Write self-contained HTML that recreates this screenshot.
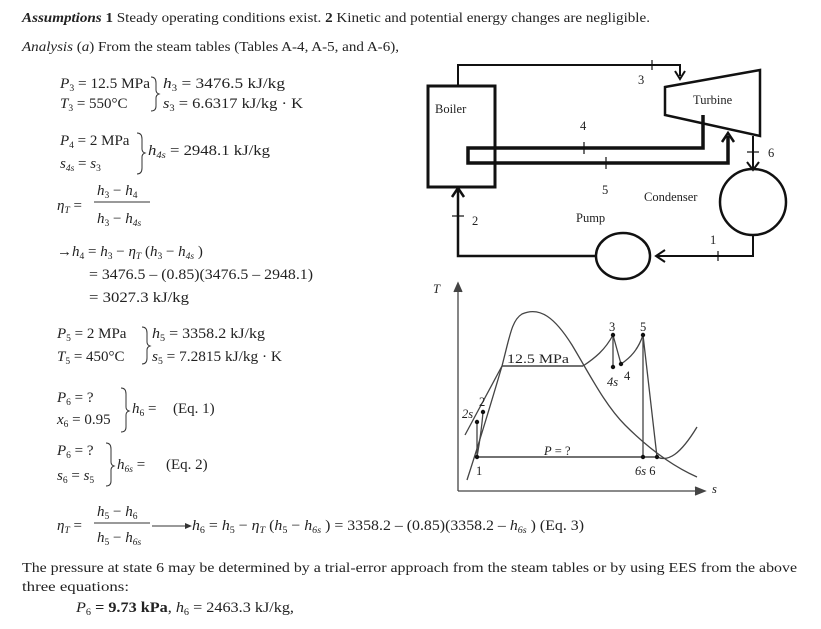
<!DOCTYPE html>
<html><head><meta charset="utf-8"><style>
html,body{margin:0;padding:0;background:#fff;}
svg{display:block;}
text{font-family:"Liberation Serif",serif;font-size:15px;fill:#222;}
.i{font-style:italic;}
.s{font-size:9.5px;}
.b{font-weight:bold;}
.h{font-size:14px;}
.d text{font-size:12.5px;}
</style></head><body>
<svg width="821" height="629" viewBox="0 0 821 629" xmlns="http://www.w3.org/2000/svg">
<!-- header -->
<text class="h" x="22" y="22" textLength="628" lengthAdjust="spacingAndGlyphs"><tspan class="i b">Assumptions</tspan> <tspan class="b">1</tspan> Steady operating conditions exist. <tspan class="b">2</tspan> Kinetic and potential energy changes are negligible.</text>
<text class="h" x="22" y="51" textLength="377" lengthAdjust="spacingAndGlyphs"><tspan class="i">Analysis</tspan> (<tspan class="i">a</tspan>) From the steam tables (Tables A-4, A-5, and A-6),</text>

<!-- state 3 -->
<text x="60" y="88" textLength="90" lengthAdjust="spacingAndGlyphs"><tspan class="i">P</tspan><tspan class="s" dy="3">3</tspan><tspan dy="-3"> = 12.5 MPa</tspan></text>
<text x="60" y="108"><tspan class="i">T</tspan><tspan class="s" dy="3">3</tspan><tspan dy="-3"> = 550°C</tspan></text>
<path d="M151 77 Q156 77 156 83 L156 90 Q156 93 159 94 Q156 95 156 98 L156 106 Q156 111 151 111" fill="none" stroke="#333" stroke-width="1"/>
<text x="163" y="88" textLength="122" lengthAdjust="spacingAndGlyphs"><tspan class="i">h</tspan><tspan class="s" dy="3">3</tspan><tspan dy="-3"> = 3476.5  kJ/kg</tspan></text>
<text x="163" y="108" textLength="140" lengthAdjust="spacingAndGlyphs"><tspan class="i">s</tspan><tspan class="s" dy="3">3</tspan><tspan dy="-3"> = 6.6317 kJ/kg · K</tspan></text>

<!-- state 4 -->
<text x="60" y="145"><tspan class="i">P</tspan><tspan class="s" dy="3">4</tspan><tspan dy="-3"> = 2 MPa</tspan></text>
<text x="60" y="168"><tspan class="i">s</tspan><tspan class="s i" dy="3">4s</tspan><tspan dy="-3"> = </tspan><tspan class="i">s</tspan><tspan class="s" dy="3">3</tspan></text>
<path d="M137 133 Q142 133 142 139 L142 149 Q142 152 145 153 Q142 154 142 157 L142 168 Q142 174 137 174" fill="none" stroke="#333" stroke-width="1"/>
<text x="148" y="155" textLength="122" lengthAdjust="spacingAndGlyphs"><tspan class="i">h</tspan><tspan class="s i" dy="3">4s</tspan><tspan dy="-3"> = 2948.1 kJ/kg</tspan></text>

<!-- eta T -->
<text x="57" y="210" class="i">η<tspan class="s" dy="3">T</tspan><tspan dy="-3" font-style="normal"> =</tspan></text>
<text x="97" y="195" class="i">h<tspan class="s" dy="3" font-style="normal">3</tspan><tspan dy="-3" font-style="normal"> − </tspan>h<tspan class="s" dy="3" font-style="normal">4</tspan></text>
<line x1="94" y1="202" x2="150" y2="202" stroke="#333" stroke-width="1"/>
<text x="97" y="223" class="i">h<tspan class="s" dy="3" font-style="normal">3</tspan><tspan dy="-3" font-style="normal"> − </tspan>h<tspan class="s" dy="3">4s</tspan></text>

<text x="57" y="256" font-size="16">→<tspan class="i">h</tspan><tspan class="s" dy="3">4</tspan><tspan dy="-3"> = </tspan><tspan class="i">h</tspan><tspan class="s" dy="3">3</tspan><tspan dy="-3"> − </tspan><tspan class="i">η</tspan><tspan class="s i" dy="3">T</tspan><tspan dy="-3"> (</tspan><tspan class="i">h</tspan><tspan class="s" dy="3">3</tspan><tspan dy="-3"> − </tspan><tspan class="i">h</tspan><tspan class="s i" dy="3">4s</tspan><tspan dy="-3"> )</tspan></text>
<text x="89" y="279" textLength="224" lengthAdjust="spacingAndGlyphs">= 3476.5 – (0.85)(3476.5 – 2948.1)</text>
<text x="89" y="302" textLength="100" lengthAdjust="spacingAndGlyphs">= 3027.3 kJ/kg</text>

<!-- state 5 -->
<text x="57" y="338"><tspan class="i">P</tspan><tspan class="s" dy="3">5</tspan><tspan dy="-3"> = 2 MPa</tspan></text>
<text x="57" y="361"><tspan class="i">T</tspan><tspan class="s" dy="3">5</tspan><tspan dy="-3"> = 450°C</tspan></text>
<path d="M142 327 Q147 327 147 333 L147 342 Q147 345 150 346 Q147 347 147 350 L147 358 Q147 364 142 364" fill="none" stroke="#333" stroke-width="1"/>
<text x="152" y="338" textLength="113" lengthAdjust="spacingAndGlyphs"><tspan class="i">h</tspan><tspan class="s" dy="3">5</tspan><tspan dy="-3"> = 3358.2 kJ/kg</tspan></text>
<text x="152" y="361" textLength="130" lengthAdjust="spacingAndGlyphs"><tspan class="i">s</tspan><tspan class="s" dy="3">5</tspan><tspan dy="-3"> = 7.2815 kJ/kg · K</tspan></text>

<!-- state 6 -->
<text x="57" y="402"><tspan class="i">P</tspan><tspan class="s" dy="3">6</tspan><tspan dy="-3"> = ?</tspan></text>
<text x="57" y="424"><tspan class="i">x</tspan><tspan class="s" dy="3">6</tspan><tspan dy="-3"> = 0.95</tspan></text>
<path d="M121 388 Q126 388 126 394 L126 407 Q126 410 129 411 Q126 412 126 415 L126 427 Q126 432 121 432" fill="none" stroke="#333" stroke-width="1"/>
<text x="132" y="413"><tspan class="i">h</tspan><tspan class="s" dy="3">6</tspan><tspan dy="-3"> =</tspan></text>
<text x="173" y="413">(Eq. 1)</text>

<text x="57" y="455"><tspan class="i">P</tspan><tspan class="s" dy="3">6</tspan><tspan dy="-3"> = ?</tspan></text>
<text x="57" y="480"><tspan class="i">s</tspan><tspan class="s" dy="3">6</tspan><tspan dy="-3"> = </tspan><tspan class="i">s</tspan><tspan class="s" dy="3">5</tspan></text>
<path d="M106 443 Q111 443 111 449 L111 462 Q111 465 114 466 Q111 467 111 470 L111 481 Q111 486 106 486" fill="none" stroke="#333" stroke-width="1"/>
<text x="117" y="469"><tspan class="i">h</tspan><tspan class="s i" dy="3">6s</tspan><tspan dy="-3"> =</tspan></text>
<text x="166" y="469">(Eq. 2)</text>

<!-- eq 3 -->
<text x="57" y="530" class="i">η<tspan class="s" dy="3">T</tspan><tspan dy="-3" font-style="normal"> =</tspan></text>
<text x="97" y="516" class="i">h<tspan class="s" dy="3" font-style="normal">5</tspan><tspan dy="-3" font-style="normal"> − </tspan>h<tspan class="s" dy="3" font-style="normal">6</tspan></text>
<line x1="94" y1="523" x2="150" y2="523" stroke="#333" stroke-width="1"/>
<text x="97" y="542" class="i">h<tspan class="s" dy="3" font-style="normal">5</tspan><tspan dy="-3" font-style="normal"> − </tspan>h<tspan class="s" dy="3">6s</tspan></text>
<line x1="152" y1="526" x2="186" y2="526" stroke="#333" stroke-width="1"/>
<path d="M185 523 L192 526 L185 529 Z" fill="#333"/>
<text x="192" y="530" textLength="392" lengthAdjust="spacingAndGlyphs"><tspan class="i">h</tspan><tspan class="s" dy="3">6</tspan><tspan dy="-3"> = </tspan><tspan class="i">h</tspan><tspan class="s" dy="3">5</tspan><tspan dy="-3"> − </tspan><tspan class="i">η</tspan><tspan class="s i" dy="3">T</tspan><tspan dy="-3"> (</tspan><tspan class="i">h</tspan><tspan class="s" dy="3">5</tspan><tspan dy="-3"> − </tspan><tspan class="i">h</tspan><tspan class="s i" dy="3">6s</tspan><tspan dy="-3"> ) = 3358.2 – (0.85)(3358.2 – </tspan><tspan class="i">h</tspan><tspan class="s i" dy="3">6s</tspan><tspan dy="-3"> )  (Eq. 3)</tspan></text>

<!-- paragraph -->
<text class="h" x="22" y="572" textLength="775" lengthAdjust="spacingAndGlyphs">The pressure at state 6 may be determined by a trial-error approach from the steam tables or by using EES from the above</text>
<text class="h" x="22" y="591" textLength="107" lengthAdjust="spacingAndGlyphs">three equations:</text>
<text x="76" y="612" textLength="218" lengthAdjust="spacingAndGlyphs"><tspan class="i">P</tspan><tspan class="s" dy="3">6</tspan><tspan dy="-3" class="b"> = 9.73 kPa</tspan><tspan>,  </tspan><tspan class="i">h</tspan><tspan class="s" dy="3">6</tspan><tspan dy="-3"> = 2463.3 kJ/kg,</tspan></text>

<!-- plant diagram -->
<g class="d" fill="none" stroke="#111">
<rect x="428" y="86" width="67" height="101" stroke-width="3"/>
<path d="M458 86 L458 65 L680 65 L680 76" stroke-width="2"/>
<path d="M675 71 L680 79 L685 71" stroke-width="2"/>
<line x1="652" y1="60" x2="652" y2="70" stroke-width="1.2"/>
<polygon points="665,87 760,70 760,136 665,115" stroke-width="2.5"/>
<path d="M703 115 L703 148 L468 148 L468 163 L728 163 L728 136" stroke-width="3.5"/>
<path d="M722 142 L728 133 L734 142" stroke-width="2.5"/>
<line x1="584" y1="142" x2="584" y2="154" stroke-width="1.2"/>
<line x1="606" y1="157" x2="606" y2="169" stroke-width="1.2"/>
<path d="M753 136 L753 168" stroke-width="2"/>
<path d="M747 162 L753 170 L759 162" stroke-width="2"/>
<line x1="747" y1="152" x2="759" y2="152" stroke-width="1.2"/>
<circle cx="753" cy="202" r="33" stroke-width="2.5"/>
<path d="M753 235 L753 256 L658 256" stroke-width="2"/>
<path d="M665 250 L656 256 L665 262" stroke-width="2"/>
<line x1="718" y1="251" x2="718" y2="261" stroke-width="1.2"/>
<ellipse cx="623" cy="256" rx="27" ry="23" stroke-width="2.5"/>
<path d="M596 256 L458 256 L458 189" stroke-width="2.5"/>
<path d="M452 197 L458 188 L464 197" stroke-width="2.5"/>
<line x1="452" y1="216" x2="464" y2="216" stroke-width="1.2"/>
</g>
<g class="d">
<text x="435" y="113">Boiler</text>
<text x="693" y="104">Turbine</text>
<text x="638" y="84">3</text>
<text x="580" y="130">4</text>
<text x="602" y="194">5</text>
<text x="768" y="157">6</text>
<text x="644" y="201">Condenser</text>
<text x="576" y="222">Pump</text>
<text x="710" y="244">1</text>
<text x="472" y="225">2</text>
</g>

<!-- T-s diagram -->
<g fill="none" stroke="#444" stroke-width="1.3">
<path d="M458 491 L458 285"/>
<path d="M454 292 L458 283 L462 292" fill="#444"/>
<path d="M458 491 L702 491"/>
<path d="M695 487 L705 491 L695 495" fill="#444"/>
<path d="M467 480 C480 440 492 400 502 366 C510 335 512 320 522 314 C540 306 555 318 572 345 C590 375 605 405 625 425 C645 445 670 465 697 477"/>
<path d="M465 435 L502 366"/>
<path d="M502 366 L583 366" stroke-width="1.6"/>
<path d="M583 366 C595 358 605 350 613 335"/>
<path d="M613 335 L613 367 M613 335 L621 364"/>
<path d="M621 364 C630 358 638 350 643 335"/>
<path d="M643 335 L643 457 M643 335 L657 457"/>
<path d="M477 457 L657 457" stroke-width="1.6"/>
<path d="M657 457 C668 462 680 455 697 427"/>
<path d="M477 457 L477 422 M477 457 C480 440 482 425 483 412"/>
</g>
<g fill="#111">
<circle cx="613" cy="335" r="2.2"/><circle cx="643" cy="335" r="2.2"/>
<circle cx="613" cy="367" r="2.2"/><circle cx="621" cy="364" r="2.2"/>
<circle cx="477" cy="422" r="2.2"/><circle cx="483" cy="412" r="2.2"/>
<circle cx="477" cy="457" r="2.2"/><circle cx="643" cy="457" r="2.2"/><circle cx="657" cy="457" r="2.2"/>
</g>
<g class="d">
<text x="433" y="293" class="i">T</text>
<text x="712" y="493" class="i">s</text>
<text x="507" y="363" textLength="62" lengthAdjust="spacingAndGlyphs">12.5 MPa</text>
<text x="609" y="331">3</text>
<text x="640" y="331">5</text>
<text x="607" y="386" class="i">4s</text>
<text x="624" y="380">4</text>
<text x="462" y="418" class="i">2s</text>
<text x="479" y="406">2</text>
<text x="544" y="455"><tspan class="i">P</tspan> = ?</text>
<text x="476" y="475">1</text>
<text x="635" y="475"><tspan class="i">6s</tspan> 6</text>
</g>
</svg>
</body></html>
